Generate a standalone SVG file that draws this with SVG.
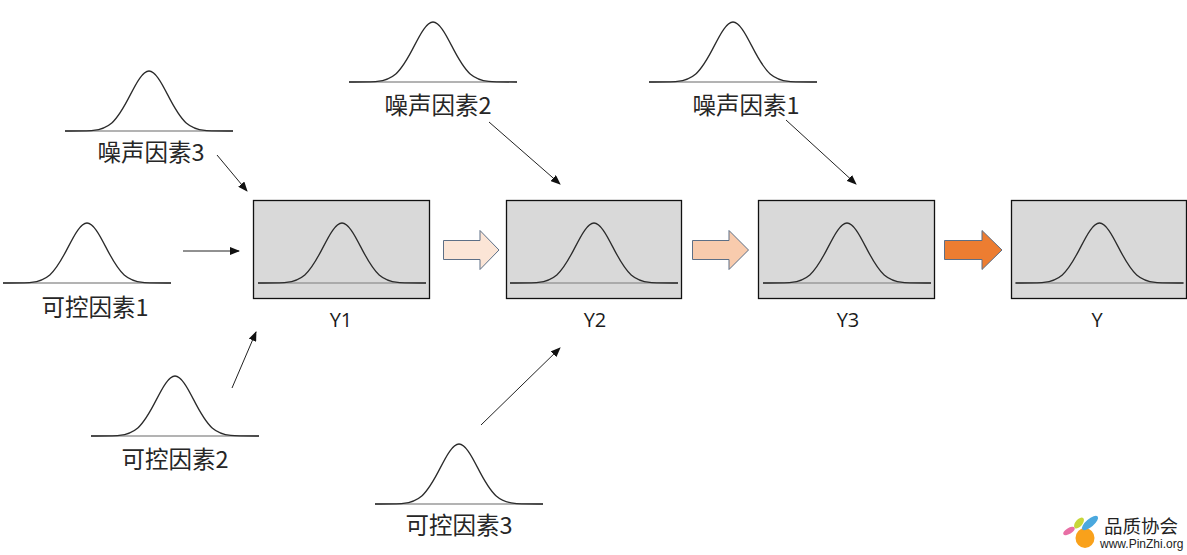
<svg xmlns="http://www.w3.org/2000/svg" xmlns:xlink="http://www.w3.org/1999/xlink" width="1187" height="555" viewBox="0 0 1187 555">
<style>
.lbl{font-family:"Noto Sans CJK SC","Liberation Sans",sans-serif;font-size:23.5px;fill:#262626;text-anchor:middle}
.y{font-family:"Open Sans","Liberation Sans",sans-serif;font-size:20px;fill:#1a1a1a;text-anchor:middle}
.box{fill:#d9d9d9;stroke:#111;stroke-width:1.3}
.conn{stroke:#222;stroke-width:1;fill:none;marker-end:url(#ah)}
.blk{stroke:#5d6f86;stroke-width:1}
.base{stroke:#9a9a9a;stroke-width:1.6}
.curve{fill:none;stroke:#2b2b2b;stroke-width:1.3}
</style>
<defs>
<marker id="ah" markerWidth="10" markerHeight="8" refX="9" refY="4" orient="auto" markerUnits="userSpaceOnUse"><path d="M0 0L10 4L0 8Z" fill="#111"/></marker>
<g id="bell">
<line class="base" x1="-84" y1="0" x2="84" y2="0"/>
<path class="curve" d="M-84 0C-70 0-62 0-55.8-.66C-49.6-1.3-43.4-2.7-37.2-8.1C-31-13.5-24.8-24.3-18.6-36.4C-12.4-48.5-6.2-60 0-60C6.2-60 12.4-48.5 18.6-36.4C24.8-24.3 31-13.5 37.2-8.1C43.4-2.7 49.6-1.3 55.8-.66C62 0 70 0 84 0"/>
</g>
</defs>
<rect width="1187" height="555" fill="#fff"/>
<g id="noise3"><use xlink:href="#bell" href="#bell" x="149" y="131"/><text class="lbl" x="151" y="161">噪声因素3</text></g>
<g id="control1"><use xlink:href="#bell" href="#bell" x="87" y="283"/><text class="lbl" x="95" y="316">可控因素1</text></g>
<g id="control2"><use xlink:href="#bell" href="#bell" x="175" y="436"/><text class="lbl" x="175" y="468">可控因素2</text></g>
<g id="control3"><use xlink:href="#bell" href="#bell" x="459" y="504"/><text class="lbl" x="459" y="534">可控因素3</text></g>
<g id="noise2"><use xlink:href="#bell" href="#bell" x="433" y="82"/><text class="lbl" x="438" y="114">噪声因素2</text></g>
<g id="noise1"><use xlink:href="#bell" href="#bell" x="733" y="82"/><text class="lbl" x="746" y="114">噪声因素1</text></g>
<g id="y1"><rect class="box" x="253.5" y="200.5" width="176" height="98"/><use xlink:href="#bell" href="#bell" x="342" y="283"/><text class="y" x="341" y="327">Y1</text></g>
<g id="y2"><rect class="box" x="506.5" y="200.5" width="175" height="98"/><use xlink:href="#bell" href="#bell" x="594" y="283"/><text class="y" x="595" y="327">Y2</text></g>
<g id="y3"><rect class="box" x="758.5" y="200.5" width="176" height="98"/><use xlink:href="#bell" href="#bell" x="847" y="283"/><text class="y" x="848" y="327">Y3</text></g>
<g id="y"><rect class="box" x="1011.5" y="200.5" width="175" height="98"/><use xlink:href="#bell" href="#bell" x="1099.5" y="283"/><text class="y" x="1097" y="327">Y</text></g>
<g id="connectors">
<line class="conn" x1="217" y1="155" x2="247" y2="191"/>
<line class="conn" x1="183" y1="251" x2="239" y2="251"/>
<line class="conn" x1="232" y1="388" x2="256" y2="332"/>
<line class="conn" x1="481" y1="425" x2="560" y2="348"/>
<line class="conn" x1="489" y1="122" x2="560" y2="184"/>
<line class="conn" x1="786" y1="120" x2="856" y2="184"/>
<path class="blk" fill="#fbe5d6" d="M443.5 240.5H480V230.5L499 250L480 269.5V259.5H443.5Z"/>
<path class="blk" fill="#f8cbad" d="M692.5 240.5H729V230.5L748.5 250L729 269.5V259.5H692.5Z"/>
<path class="blk" fill="#ed7d31" d="M944.5 240.5H982V230.5L1002 250L982 269.5V259.5H944.5Z"/>
</g>
<g id="logo">
<ellipse cx="1085" cy="538" rx="9.5" ry="10" fill="#f9a11b"/>
<ellipse cx="1090" cy="523" rx="10" ry="4" fill="#4aa8de" transform="rotate(-40 1090 523)"/>
<ellipse cx="1079" cy="523" rx="6.5" ry="3.5" fill="#c7d63a" transform="rotate(-50 1079 523)"/>
<ellipse cx="1069" cy="531" rx="6.5" ry="3" fill="#e86fa5" transform="rotate(-30 1069 531)"/>
<text x="1104" y="533" font-family="'Noto Sans CJK SC',sans-serif" font-size="18.5" fill="#222">品质协会</text>
<text x="1100" y="548" font-family="'Liberation Sans',sans-serif" font-size="12" fill="#222">www.PinZhi.org</text>
</g>
</svg>
